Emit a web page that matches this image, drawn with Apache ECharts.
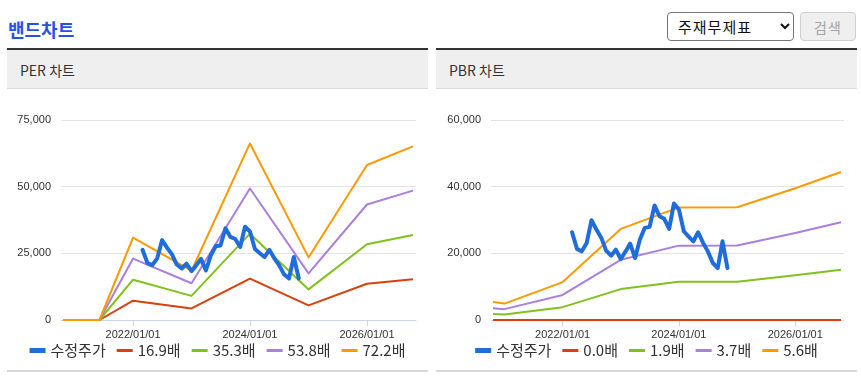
<!DOCTYPE html>
<html>
<head>
<meta charset="utf-8">
<script src="https://cdn.jsdelivr.net/npm/echarts@6.0.0/dist/echarts.min.js"></script>
<style>
  html, body { margin: 0; padding: 0; background: #fff; }
  body { width: 861px; height: 377px; position: relative; overflow: hidden; font-family: "Noto Sans CJK KR", "Noto Sans", sans-serif; }
  #title { position: absolute; left: 8px; top: 19px; font-size: 18px; line-height: 20px; font-weight: bold; color: #2850e6; letter-spacing: 0px; }
  #sel { position: absolute; left: 667px; top: 12px; width: 127px; height: 29px; font-size: 15px; font-family: "Noto Sans CJK KR", sans-serif; color: #111; border: 1px solid #767676; border-radius: 4px; padding: 0 0 0 6px; background: #fff; box-sizing: border-box; letter-spacing: 1px; }
  #btn { position: absolute; left: 800px; top: 12px; width: 56px; height: 29px; font-size: 14px; font-family: "Noto Sans CJK KR", sans-serif; color: #a3a3a3; background: #efefef; border: 1px solid #d0d0d0; border-radius: 4px; box-sizing: border-box; padding: 0; letter-spacing: 1px; }
  .dark { position: absolute; top: 48px; height: 2px; width: 421px; background: #333; }
  .phead { position: absolute; top: 50px; height: 38px; width: 421px; background: #efefef; border-bottom: 1px solid #dcdcdc; font-size: 14px; line-height: 40px; color: #333; box-sizing: content-box; }
  .phead span { margin-left: 13px; }
  .chart { position: absolute; top: 89px; height: 281px; width: 421px; }
  .bline { position: absolute; top: 370px; height: 2px; width: 421px; background: #d6d6d6; }
</style>
</head>
<body>
<div id="title">밴드차트</div>
<select id="sel"><option>주재무제표</option></select>
<button id="btn" disabled>검색</button>

<div class="dark" style="left:7px"></div>
<div class="phead" style="left:7px"><span>PER 차트</span></div>
<div class="chart" id="per" style="left:7px"></div>
<div class="bline" style="left:7px"></div>

<div class="dark" style="left:436px"></div>
<div class="phead" style="left:436px"><span>PBR 차트</span></div>
<div class="chart" id="pbr" style="left:436px"></div>
<div class="bline" style="left:436px"></div>

<script>
// ---- Data ----
const priceName = '수정주가';
const priceDates = [
  '2022-03-01','2022-04-01','2022-05-01','2022-06-01','2022-07-01','2022-08-01','2022-09-01','2022-10-01','2022-11-01','2022-12-01',
  '2023-01-01','2023-02-01','2023-03-01','2023-04-01','2023-05-01','2023-06-01','2023-07-01','2023-08-01','2023-09-01','2023-10-01','2023-11-01','2023-12-01',
  '2024-01-01','2024-02-01','2024-03-01','2024-04-01','2024-05-01','2024-06-01','2024-07-01','2024-08-01','2024-09-01','2024-10-01','2024-11-01'
];
const priceValues = [
  26320, 21320, 20590, 23130, 29940, 27140, 24630, 20800, 19300, 21100,
  18300, 20650, 22910, 18600, 24120, 27650, 27950, 34370, 31150, 30360, 27350, 34970,
  33170, 26620, 25110, 23610, 26320, 23130, 20590, 17100, 15590, 23610, 15590
];

const perDates = ['2020-10-21','2021-06-05','2022-01-01','2023-01-01','2024-01-01','2025-01-01','2026-01-01','2026-10-15'];
const perNames = ['16.9배', '35.3배', '53.8배', '72.2배'];
const per169 = [0, 0, 7230, 4330, 15500, 5490, 13600, 15240];
const per353 = [0, 0, 15110, 9040, 32370, 11470, 28420, 31840];
const per538 = [0, 0, 23030, 13770, 49330, 17490, 43310, 48530];
const per722 = [0, 0, 30900, 18480, 66210, 23470, 58120, 65120];

const pbrDates = ['2020-10-21','2021-01-01','2022-01-01','2023-01-01','2024-01-01','2025-01-01','2026-01-01','2026-10-15'];
const pbrNames = ['0.0배', '1.9배', '3.7배', '5.6배'];
const pbr00 = [0, 0, 0, 0, 0, 0, 0, 0];
const pbr19 = [1820, 1670, 3860, 9270, 11460, 11480, 13410, 15070];
const pbr37 = [3550, 3260, 7510, 18060, 22310, 22350, 26120, 29340];
const pbr56 = [5380, 4930, 11370, 27330, 33770, 33820, 39540, 44410];

const xMin = '2020-10-08';
const xMax = '2026-11-03';
const xTickDates = ['2022-01-01', '2024-01-01', '2026-01-01'];

const perYMax = 75000, perYStep = 25000;
const pbrYMax = 60000, pbrYStep = 20000;

// ---- Styles ----
const colors = ['#1f6ddc', '#d8400c', '#80c21d', '#a97fe0', '#ff9900'];
// legend line icons (16x14 box; thin invisible-ish slivers keep the box size)
const iconThick = 'path://M0,0L16,0L16,0.01L0,0.01Z M0,4.5L16,4.5L16,9.5L0,9.5Z M0,13.99L16,13.99L16,14L0,14Z';
const iconThin = 'path://M0,0L16,0L16,0.01L0,0.01Z M0,5.5L16,5.5L16,8.5L0,8.5Z M0,13.99L16,13.99L16,14L0,14Z';

function toTs(s) { const p = s.split('-').map(Number); return Date.UTC(p[0], p[1] - 1, p[2]); }
function zip(d, v) { return d.map((x, i) => [toTs(x), v[i]]); }
function pad(n) { return (n < 10 ? '0' : '') + n; }

function buildOption(bandNames, bandDates, bandValues, yMax, yStep, gridLeft, gridRight) {
  const series = [];
  bandNames.forEach((n, i) => {
    series.push({
      name: n, type: 'line', data: zip(bandDates, bandValues[i]),
      symbol: 'none', showSymbol: false, z: 2,
      lineStyle: { width: 2, color: colors[i + 1], join: 'round' },
      itemStyle: { color: colors[i + 1] }
    });
  });
  series.push({
    name: priceName, type: 'line', data: zip(priceDates, priceValues),
    symbol: 'none', showSymbol: false, z: 5,
    lineStyle: { width: 4, color: colors[0], join: 'round', cap: 'round' },
    itemStyle: { color: colors[0] }
  });
  const tickTs = xTickDates.map(toTs);
  const legendData = [{ name: priceName, icon: iconThick }].concat(bandNames.map(n => ({ name: n, icon: iconThin })));
  return {
    animation: false,
    color: colors,
    grid: { left: gridLeft, right: gridRight, top: 31, bottom: 50, containLabel: false, outerBoundsMode: 'none' },
    legend: {
      data: legendData,
      bottom: 7, left: 'center',
      itemWidth: 16, itemHeight: 14, itemGap: 11,
      textStyle: { fontSize: 15, color: '#333', fontFamily: '"Noto Sans CJK KR", sans-serif' }
    },
    xAxis: {
      type: 'value', min: toTs(xMin), max: toTs(xMax), scale: true,
      axisLine: { lineStyle: { color: '#ccd6eb', width: 1 } },
      axisTick: { show: true, length: 6, lineStyle: { color: '#ccd6eb' }, customValues: tickTs },
      axisLabel: {
        customValues: tickTs, margin: 9, fontSize: 11, color: '#333',
        fontFamily: '"Liberation Sans", Arial, sans-serif',
        formatter: function (v) { const d = new Date(v); return d.getUTCFullYear() + '/' + pad(d.getUTCMonth() + 1) + '/' + pad(d.getUTCDate()); }
      },
      splitLine: { show: false }
    },
    yAxis: {
      type: 'value', min: 0, max: yMax, interval: yStep,
      axisLine: { show: false }, axisTick: { show: false },
      axisLabel: {
        margin: 10, fontSize: 11, color: '#333', fontFamily: '"Liberation Sans", Arial, sans-serif',
        formatter: function (v) { return v.toLocaleString('en-US'); }
      },
      splitLine: { lineStyle: { color: '#e3e3e3', width: 1 } }
    },
    series: series
  };
}

const perChart = echarts.init(document.getElementById('per'), null, { renderer: 'canvas' });
perChart.setOption(buildOption(perNames, perDates, [per169, per353, per538, per722], perYMax, perYStep, 54, 12));

const pbrChart = echarts.init(document.getElementById('pbr'), null, { renderer: 'canvas' });
pbrChart.setOption(buildOption(pbrNames, pbrDates, [pbr00, pbr19, pbr37, pbr56], pbrYMax, pbrYStep, 55, 13));
</script>
</body>
</html>
